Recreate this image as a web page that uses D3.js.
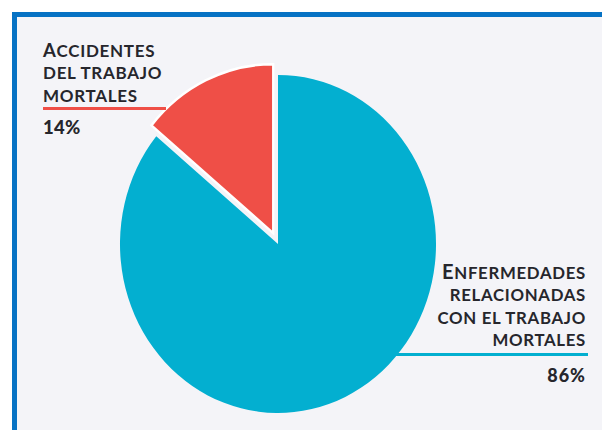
<!DOCTYPE html>
<html lang="es">
<head>
<meta charset="utf-8">
<script src="https://cdnjs.cloudflare.com/ajax/libs/d3/7.8.5/d3.min.js"></script>
<style>
  body { margin: 0; background: #ffffff; }
  text { font-family: Lato, "Open Sans", sans-serif; font-weight: 700; fill: #26262c; }
</style>
</head>
<body>
<svg id="canvas" width="602" height="430"></svg>
<script>
// data
const categories = ["Enfermedades relacionadas con el trabajo mortales", "Accidentes del trabajo mortales"];
const values = [86, 14];
const percentLabels = ["86%", "14%"];
const blueLines = ["Enfermedades", "relacionadas", "con el trabajo", "mortales"];
const redLines = ["Accidentes", "del trabajo", "mortales"];
const colors = ["#03afd0", "#ef4f47"];

const svg = d3.select("#canvas");

// frame + background
svg.append("rect").attr("x", 12).attr("y", 12).attr("width", 590).attr("height", 418).attr("fill", "#f4f4f8");
svg.append("rect").attr("x", 12).attr("y", 12).attr("width", 590).attr("height", 5).attr("fill", "#0672c4");
svg.append("rect").attr("x", 12).attr("y", 12).attr("width", 5).attr("height", 418).attr("fill", "#0672c4");

// pie (the original picture is a bit squeezed sideways)
const cx = 278, cy = 244, R = 169, squeeze = 0.935;
const pie = d3.pie().sort(null).value(d => d)(values);
const arc = d3.arc().innerRadius(0).outerRadius(R);

const g = svg.append("g").attr("transform", "translate(" + cx + "," + cy + ") scale(" + squeeze + ",1)");

g.selectAll("path")
  .data(pie)
  .join("path")
  .attr("d", arc)
  .attr("fill", (d, i) => colors[i])
  .attr("stroke", (d, i) => i == 1 ? "#ffffff" : "none")
  .attr("stroke-width", 2.5)
  .attr("stroke-linejoin", "miter")
  .attr("transform", function(d, i) {
    if (i != 1) return null; // only the small slice is pulled out
    let a = (d.startAngle + d.endAngle) / 2;
    let off = 12;
    return "translate(" + (Math.sin(a) * off) + "," + (-Math.cos(a) * off) + ")";
  });

// label helper: first letter bigger (small caps look)
function addLines(lines, x, y0, anchor, size, big) {
  lines.forEach(function(line, i) {
    let t = svg.append("text")
      .attr("x", x).attr("y", y0 + i * 22.3)
      .attr("text-anchor", anchor)
      .style("letter-spacing", "0.7px");
    let up = line.toUpperCase();
    if (i == 0) {
      t.append("tspan").style("font-size", big + "px").text(up[0]);
      t.append("tspan").style("font-size", size + "px").text(up.slice(1));
    } else {
      t.append("tspan").style("font-size", size + "px").text(up);
    }
  });
}

// left label (red)
addLines(redLines, 43, 57, "start", 17, 18.5);
svg.append("line").attr("x1", 43).attr("x2", 166).attr("y1", 108.5).attr("y2", 108.5)
  .attr("stroke", colors[1]).attr("stroke-width", 3);
svg.append("text").attr("x", 43).attr("y", 133.5).style("font-size", "18.5px").style("font-weight", 900)
  .style("letter-spacing", "0.3px").text(percentLabels[1]);

// right label (blue)
addLines(blueLines, 586, 279, "end", 16.8, 20);
svg.append("line").attr("x1", 396).attr("x2", 588).attr("y1", 354.5).attr("y2", 354.5)
  .attr("stroke", colors[0]).attr("stroke-width", 3);
svg.append("text").attr("x", 586).attr("y", 382).attr("text-anchor", "end")
  .style("font-size", "18px").style("font-weight", 900).style("letter-spacing", "1px").text(percentLabels[0]);
</script>
</body>
</html>
